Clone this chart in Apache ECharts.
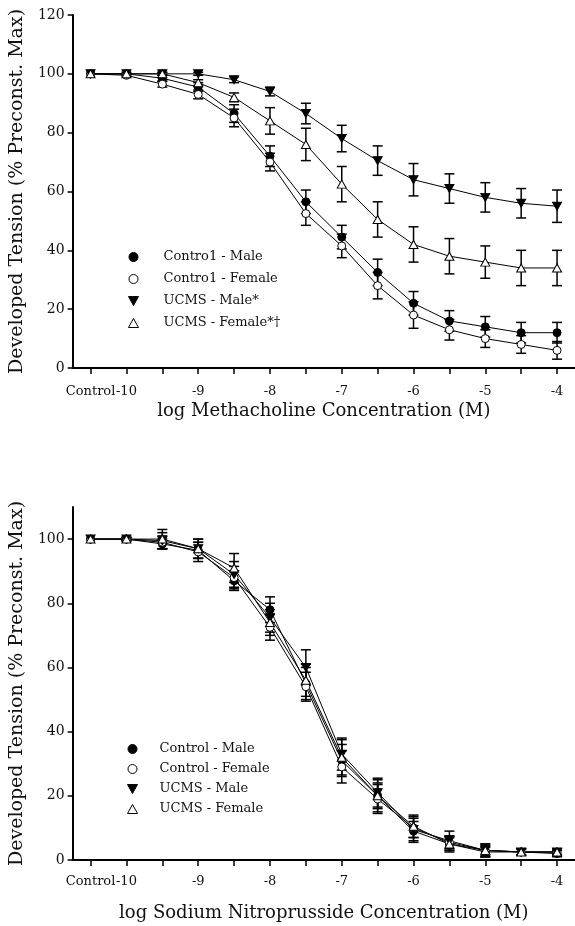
<!DOCTYPE html>
<html>
<head>
<meta charset="utf-8">
<script src="https://cdn.jsdelivr.net/npm/echarts@6/dist/echarts.min.js"></script>
<style>
  html, body { margin: 0; padding: 0; background: #fff; }
  #chart { width: 575px; height: 926px; }
</style>
</head>
<body>
<div id="chart"></div>
<script>
const doses = ["Control", "-10", "-9.5", "-9", "-8.5", "-8", "-7.5", "-7", "-6.5", "-6", "-5.5", "-5", "-4.5", "-4"];
const yTicksTop = [0, 20, 40, 60, 80, 100, 120];
const yTicksBottom = [0, 20, 40, 60, 80, 100];

// methacholine (top)
const mchCtrlMale = [100, 100, 98.5, 95.5, 86.5, 72, 56.5, 44.5, 32.5, 22, 16, 14, 12, 12];
const mchCtrlMaleErr = [0, 0.5, 1, 1.5, 3, 3.5, 4, 4, 4.5, 4, 3.5, 3.5, 3.5, 3.5];
const mchCtrlFemale = [100, 99.5, 96.5, 93, 85, 70, 52.5, 41.5, 28, 18, 13, 10, 8, 6];
const mchCtrlFemaleErr = [0, 0.5, 1, 1.5, 3, 3, 4, 4, 4.5, 4.5, 3.5, 3, 3, 3];
const mchUcmsMale = [100, 100, 100, 100, 98, 94, 86.5, 78, 70.5, 64, 61, 58, 56, 55];
const mchUcmsMaleErr = [0, 0, 0.5, 0.5, 1, 1.5, 3.5, 4.5, 5, 5.5, 5, 5, 5, 5.5];
const mchUcmsFemale = [100, 100, 100, 97, 92, 84, 76, 62.5, 50.5, 42, 38, 36, 34, 34];
const mchUcmsFemaleErr = [0, 0, 0.5, 1, 1.5, 4.5, 5.5, 6, 6, 6, 6, 5.5, 6, 6];

// sodium nitroprusside (bottom)
const snpCtrlMale = [100, 100, 98.5, 96.5, 87, 78, 55, 31, 20, 9, 5, 2.5, 2.5, 2];
const snpCtrlMaleErr = [0, 0.5, 1.5, 2.5, 3, 4, 5, 5, 4, 3, 2, 1.5, 1, 1];
const snpCtrlFemale = [100, 100, 99, 96, 88, 72.5, 54, 29, 19, 10, 5.5, 3, 2.5, 2.5];
const snpCtrlFemaleErr = [0, 0.5, 2, 3, 3.5, 4, 4.5, 5, 4.5, 3, 2, 1.5, 1, 1];
const snpUcmsMale = [100, 100, 99.5, 97, 89, 75.5, 60, 33, 21, 9.5, 6, 3, 2.5, 2.5];
const snpUcmsMaleErr = [0, 0.5, 2.5, 3, 4, 4.5, 5.5, 5, 4.5, 4, 3, 2, 1, 1];
const snpUcmsFemale = [100, 100, 100, 97, 91, 74, 56, 32, 20, 10.5, 5, 3, 2.5, 2.5];
const snpUcmsFemaleErr = [0, 0.5, 3, 3, 4.5, 4, 5, 5.5, 5, 3.5, 2.5, 2, 1, 1];

const topNames = ["Contro1 - Male", "Contro1 - Female", "UCMS - Male*", "UCMS - Female*\u2020"];
const bottomNames = ["Control - Male", "Control - Female", "UCMS - Male", "UCMS - Female"];

const FONT = "DejaVu Serif";
const INK = "#111";
const downTri = "path://M0,0L10,0L5,9Z";
const markers = [
  { symbol: "circle", size: 8, fill: "#000" },
  { symbol: "circle", size: 8, fill: "#fff" },
  { symbol: downTri, size: [9, 8], fill: "#000" },
  { symbol: "triangle", size: [9, 8], fill: "#fff" },
];

const chart = echarts.init(document.getElementById("chart"));

function renderErr(params, api) {
  const i = api.value(0);
  const v = api.value(1);
  const e = api.value(2);
  if (!e) return null;
  const hi = api.coord([i, v + e]);
  const lo = api.coord([i, v - e]);
  const w = 5;
  const st = { stroke: "#000", lineWidth: 1.5 };
  return {
    type: "group",
    children: [
      { type: "line", shape: { x1: hi[0], y1: hi[1], x2: lo[0], y2: lo[1] }, style: st },
      { type: "line", shape: { x1: hi[0] - w, y1: hi[1], x2: hi[0] + w, y2: hi[1] }, style: st },
      { type: "line", shape: { x1: lo[0] - w, y1: lo[1], x2: lo[0] + w, y2: lo[1] }, style: st },
    ],
  };
}

function lineSeries(name, vals, gi, k) {
  const m = markers[k];
  return {
    name: name,
    type: "line",
    xAxisIndex: gi,
    yAxisIndex: gi,
    data: vals,
    symbol: m.symbol,
    symbolSize: m.size,
    z: 3,
    lineStyle: { color: "#000", width: 1 },
    itemStyle: { color: m.fill, borderColor: "#000", borderWidth: 1 },
    emphasis: { disabled: true },
  };
}

function errSeries(name, vals, errs, gi) {
  return {
    name: name,
    type: "custom",
    xAxisIndex: gi,
    yAxisIndex: gi,
    data: vals.map((v, i) => [i, v, errs[i]]),
    encode: { x: 0, y: 1 },
    renderItem: renderErr,
    z: 2,
    silent: true,
  };
}

function legendData(names) {
  return names.map((n, k) => ({
    name: n,
    icon: markers[k].symbol,
    itemStyle: { color: markers[k].fill, borderColor: "#000", borderWidth: 1 },
  }));
}

function xAxis(gi, margin) {
  return {
    type: "category",
    gridIndex: gi,
    data: doses,
    boundaryGap: true,
    name: gi === 0 ? "log Methacholine Concentration (M)" : "log Sodium Nitroprusside Concentration (M)",
    nameLocation: "middle",
    nameGap: gi === 0 ? 34 : 44,
    nameTextStyle: { fontFamily: FONT, fontSize: 18, color: INK },
    axisLine: { show: true, lineStyle: { color: "#000", width: 2 } },
    axisTick: { show: true, alignWithLabel: true, interval: 0, length: 6, lineStyle: { color: "#000", width: 1.5 } },
    axisLabel: {
      interval: (i, v) => v.indexOf(".5") < 0,
      showMinLabel: true,
      hideOverlap: false,
      margin: margin,
      fontFamily: FONT,
      fontSize: 13,
      color: INK,
    },
    splitLine: { show: false },
  };
}

function yAxis(gi, max, ticks) {
  return {
    type: "value",
    gridIndex: gi,
    min: 0,
    max: max,
    name: "Developed Tension (% Preconst. Max)",
    nameLocation: "middle",
    nameGap: 41,
    nameTextStyle: { fontFamily: FONT, fontSize: 19, color: INK },
    axisLine: { show: true, lineStyle: { color: "#000", width: 2 } },
    axisTick: { show: true, length: 5, customValues: ticks, lineStyle: { color: "#000", width: 1.5 } },
    axisLabel: { customValues: ticks, margin: 8, fontFamily: FONT, fontSize: 14, color: INK },
    splitLine: { show: false },
  };
}

const legendText = { fontFamily: FONT, fontSize: 13, color: INK, lineHeight: 14 };

chart.setOption({
  animation: false,
  backgroundColor: "#fff",
  grid: [
    { left: 68, right: -2, top: 15, height: 353 },
    { left: 68, right: -2, top: 507, height: 353 },
  ],
  xAxis: [xAxis(0, 17), xAxis(1, 15)],
  yAxis: [yAxis(0, 120, yTicksTop), yAxis(1, 110, yTicksBottom)],
  legend: [
    {
      data: legendData(topNames),
      orient: "vertical",
      left: 128,
      top: 250,
      padding: 0,
      itemWidth: 10,
      itemHeight: 9,
      itemGap: 8,
      selectedMode: false,
      textStyle: Object.assign({ padding: [0, 0, 0, 20] }, legendText),
    },
    {
      data: legendData(bottomNames),
      orient: "vertical",
      left: 127,
      top: 742,
      padding: 0,
      itemWidth: 10,
      itemHeight: 9,
      itemGap: 6,
      selectedMode: false,
      textStyle: Object.assign({ padding: [0, 0, 0, 17] }, legendText),
    },
  ],
  series: [
    errSeries("e-mcm", mchCtrlMale, mchCtrlMaleErr, 0),
    errSeries("e-mcf", mchCtrlFemale, mchCtrlFemaleErr, 0),
    errSeries("e-mum", mchUcmsMale, mchUcmsMaleErr, 0),
    errSeries("e-muf", mchUcmsFemale, mchUcmsFemaleErr, 0),
    lineSeries(topNames[0], mchCtrlMale, 0, 0),
    lineSeries(topNames[1], mchCtrlFemale, 0, 1),
    lineSeries(topNames[2], mchUcmsMale, 0, 2),
    lineSeries(topNames[3], mchUcmsFemale, 0, 3),
    errSeries("e-scm", snpCtrlMale, snpCtrlMaleErr, 1),
    errSeries("e-scf", snpCtrlFemale, snpCtrlFemaleErr, 1),
    errSeries("e-sum", snpUcmsMale, snpUcmsMaleErr, 1),
    errSeries("e-suf", snpUcmsFemale, snpUcmsFemaleErr, 1),
    lineSeries(bottomNames[0], snpCtrlMale, 1, 0),
    lineSeries(bottomNames[1], snpCtrlFemale, 1, 1),
    lineSeries(bottomNames[2], snpUcmsMale, 1, 2),
    lineSeries(bottomNames[3], snpUcmsFemale, 1, 3),
  ],
});
</script>
</body>
</html>
